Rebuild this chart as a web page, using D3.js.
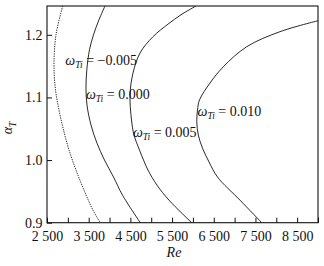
<!DOCTYPE html>
<html><head><meta charset="utf-8">
<script src="https://cdn.jsdelivr.net/npm/d3@7"></script>
<style>body{margin:0;background:#fff}svg{display:block}</style>
</head><body>
<svg id="c" width="324" height="266"></svg>
<script>
// Tick values / labels
const xTicks = [2500,3000,3500,4000,4500,5000,5500,6000,6500,7000,7500,8000,8500,9000];
const xTickLabels = {2500:"2 500",3500:"3 500",4500:"4 500",5500:"5 500",6500:"6 500",7500:"7 500",8500:"8 500"};
const yTicks = [0.9,1.0,1.1,1.2];

// Contour curves: Re values and alpha_T values
const reM005 = [2877,2716,2668,2704,2788,2896,3028,3196,3387,3603,3778];
const alM005 = [1.246,1.200,1.152,1.112,1.080,1.048,1.016,0.984,0.952,0.920,0.900];
const re000 = [3891,3747,3615,3519,3455,3435,3459,3555,3699,3879,4095,4311,4738];
const al000 = [1.246,1.224,1.200,1.176,1.144,1.115,1.088,1.056,1.027,1.000,0.973,0.944,0.900];
const re005 = [6074,5714,5402,5042,4731,4563,4491,4527,4587,4719,4815,4922,5138,5426,5971];
const al005 = [1.246,1.232,1.217,1.197,1.171,1.139,1.104,1.064,1.040,1.016,1.000,0.984,0.960,0.936,0.900];
const re010 = [9000,8088,7290,6729,6410,6158,6110,6093,6129,6230,6386,6589,7129,7650];
const al010 = [1.2225,1.205,1.181,1.149,1.123,1.096,1.080,1.061,1.040,1.019,0.997,0.973,0.936,0.900];

const curveLabels = ["−0.005","0.000","0.005","0.010"];
const labelRe = [2940,3435,4560,6110];
const labelAl = [1.1525,1.098,1.0375,1.071];

const svg = d3.select("#c");
const L=47,R=318,T=6,B=222.7;
const x = d3.scaleLinear().domain([2500,9000]).range([L,R]);
const y = d3.scaleLinear().domain([0.9,1.246]).range([B,T]);
const font = "'Liberation Serif','DejaVu Serif',serif";

svg.append("defs").append("clipPath").attr("id","clip")
  .append("rect").attr("x",L).attr("y",T).attr("width",R-L).attr("height",B-T);

const curves = [
  {re:reM005, al:alM005, dash:"1.3,1.1"},
  {re:re000, al:al000, dash:null},
  {re:re005, al:al005, dash:null},
  {re:re010, al:al010, dash:null}
];
const line = d3.line().x(d=>x(d[0])).y(d=>y(d[1])).curve(d3.curveCatmullRom.alpha(0.5));
const g = svg.append("g").attr("clip-path","url(#clip)");
curves.forEach(c=>{
  g.append("path").attr("d", line(c.re.map((r,i)=>[r,c.al[i]])))
   .attr("fill","none").attr("stroke","#111").attr("stroke-width",0.9)
   .attr("stroke-dasharray", c.dash);
});

// axes
const xAxis = d3.axisBottom(x).tickValues(xTicks).tickSize(-5).tickPadding(8)
  .tickFormat(d=>xTickLabels[d]||"");
const yAxis = d3.axisLeft(y).tickValues(yTicks).tickSize(-5).tickPadding(4.5)
  .tickFormat(d3.format(".1f"));
const gx = svg.append("g").attr("transform",`translate(0,${B})`).call(xAxis);
const gy = svg.append("g").attr("transform",`translate(${L},0)`).call(yAxis);
[gx,gy].forEach(a=>{
  a.select(".domain").remove();
  a.selectAll("line").attr("stroke","#111").attr("stroke-width",1);
  a.selectAll("text").attr("font-family",font).attr("font-size",14).attr("fill","#111");
});
svg.append("rect").attr("x",L).attr("y",T).attr("width",R-L).attr("height",B-T)
  .attr("fill","none").attr("stroke","#111").attr("stroke-width",1.1);

// curve labels
curveLabels.forEach((lab,i)=>{
  const t = svg.append("text").attr("x",x(labelRe[i])).attr("y",y(labelAl[i]))
    .attr("font-family",font).attr("font-size",14).attr("fill","#111");
  t.append("tspan").attr("font-style","italic").text("ω");
  t.append("tspan").attr("font-style","italic").attr("font-size",9.5).attr("dy",3.5).text("Ti");
  t.append("tspan").attr("dy",-3.5).text(" = "+lab);
});

// axis titles
svg.append("text").attr("x",174).attr("y",257).attr("text-anchor","middle")
  .attr("font-family",font).attr("font-size",14).attr("font-style","italic").attr("fill","#111").text("Re");
const yt = svg.append("text").attr("transform","translate(12,128) rotate(-90)").attr("text-anchor","middle")
  .attr("font-family",font).attr("font-size",14).attr("font-style","italic").attr("fill","#111");
yt.append("tspan").text("α");
yt.append("tspan").attr("font-size",9.5).attr("dy",3.5).text("T");
</script>
</body></html>
